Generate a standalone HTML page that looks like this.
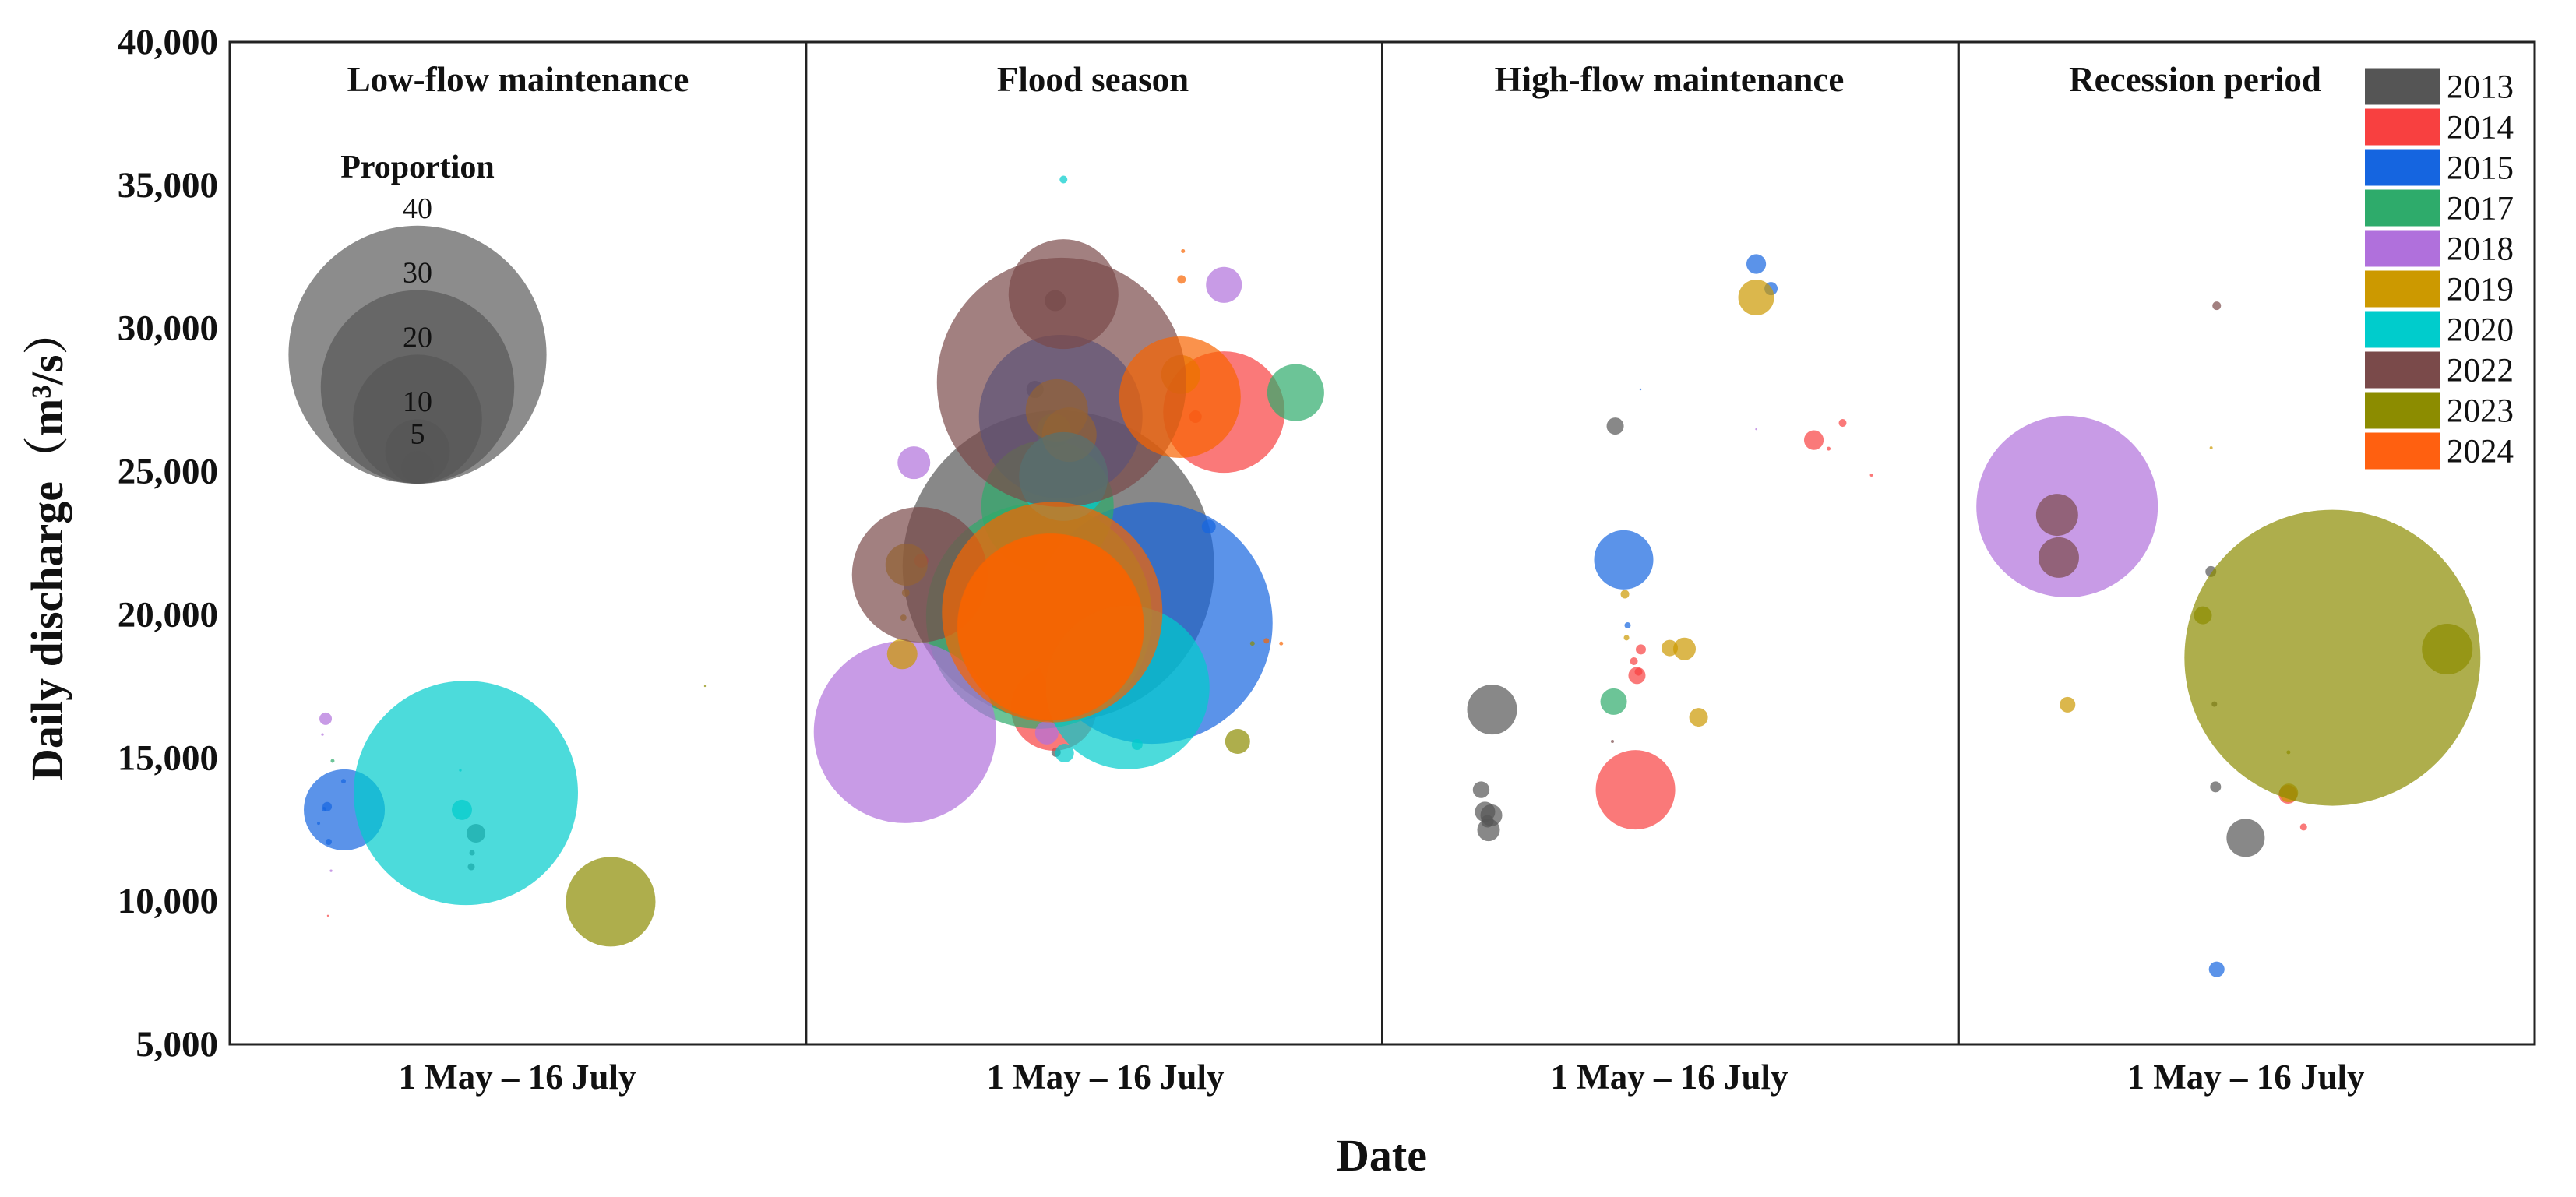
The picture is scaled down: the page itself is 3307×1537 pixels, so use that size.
<!DOCTYPE html>
<html lang="en">
<head>
<meta charset="utf-8">
<title>Daily discharge bubble chart</title>
<style>
html,body{margin:0;padding:0;background:#fff;}
body{width:3307px;height:1537px;overflow:hidden;}
svg{display:block;}
text{font-family:"Liberation Serif","Noto Serif CJK SC",serif;fill:#111;}
.b{font-weight:bold;}
</style>
</head>
<body>
<svg id="chart" xmlns="http://www.w3.org/2000/svg" width="3307" height="1537" viewBox="0 0 3307 1537">
  <rect x="0" y="0" width="3307" height="1537" fill="#fff"/>
  <g id="marks"></g>
  <g id="size-key"></g>
  <g id="frames"></g>
  <g id="axes"></g>
  <g id="legend"></g>
  <text class="b" x="1774" y="1503" font-size="58" text-anchor="middle">Date</text>
  <text class="b" transform="translate(80,1003) rotate(-90)" font-size="58" text-anchor="start">Daily discharge（m³/s）</text>
  <text class="b" x="536" y="228" font-size="42" text-anchor="middle">Proportion</text>
</svg>
<script>
const years = [2013, 2014, 2015, 2017, 2018, 2019, 2020, 2022, 2023, 2024];
const yTicks = [5000, 10000, 15000, 20000, 25000, 30000, 35000, 40000];
const panelTitles = ["Low-flow maintenance", "Flood season", "High-flow maintenance", "Recession period"];
const xRangeLabel = "1 May – 16 July";
const sizeKeyValues = [40, 30, 20, 10, 5];

// each row: year, days since 1 May, daily discharge (m3/s), proportion
const lowFlowBubbles = [
  [2013,32.93,12370,2.9],[2013,32.41,11690,0.85],[2013,32.30,11200,1.09],
  [2014,13.13,9490,0.3],
  [2015,15.32,13190,12.56],[2015,13.03,13300,1.45],[2015,12.61,13210,0.72],[2015,13.23,12070,0.97],[2015,15.21,14190,0.72],[2015,11.88,12720,0.48],
  [2017,13.75,14900,0.6],
  [2018,12.82,16370,1.93],[2018,12.40,15820,0.4],[2018,13.55,11060,0.4],
  [2020,31.57,13780,34.78],[2020,31.05,13190,3.14],[2020,30.84,14570,0.4],
  [2023,50.95,9980,13.89],[2023,63.56,17510,0.3]
];
const floodBubbles = [
  [2013,33.34,30970,3.26],[2013,30.63,27870,2.66],[2013,33.76,21700,48.31],[2013,33.45,15200,1.45],
  [2014,15.42,21890,2.17],[2014,55.90,27080,18.84],[2014,52.10,26920,1.93],[2014,33.14,16750,13.29],
  [2015,34.07,26920,25.36],[2015,46.26,19710,37.44],[2015,53.87,23080,2.17],
  [2017,33.14,26430,5.31],[2017,32.30,23790,20.53],[2017,31.16,19960,35.02],[2017,65.50,27760,8.82],
  [2018,55.90,31520,5.56],[2018,14.43,25310,5.07],[2018,13.23,15910,28.26],[2018,32.20,15880,3.62],
  [2019,33.55,27140,9.66],[2019,35.22,26290,8.45],[2019,50.12,28390,6.04],[2019,13.44,21750,6.52],[2019,13.34,20770,1.21],[2019,13.03,19900,0.97],[2019,12.87,18630,4.71],
  [2020,34.44,35200,1.21],[2020,34.44,24830,13.77],[2020,43.03,17460,25.36],[2020,34.59,15170,2.9],[2020,44.29,15470,1.69],
  [2022,34.44,31200,17.03],[2022,34.18,28120,38.65],[2022,15.21,21400,21.01],
  [2023,57.73,15580,3.86],[2023,59.71,19000,0.72],
  [2024,50.43,32700,0.6],[2024,50.22,31710,1.33],[2024,50.02,27600,18.84],[2024,61.58,19090,0.85],[2024,63.56,19000,0.6],[2024,32.93,20090,34.18],[2024,32.72,19580,28.99],[2024,32.72,19580,28.8]
];
const highFlowBubbles = [
  [2013,31.16,26590,2.66],[2013,14.69,16690,7.73],[2013,13.23,13890,2.58],[2013,13.75,13120,3.14],[2013,14.59,13000,3.38],[2013,14.22,12490,3.5],[2013,14.07,12790,1.93],
  [2014,57.73,26100,3.04],[2014,61.58,26700,1.21],[2014,59.71,25800,0.6],[2014,65.44,24880,0.48],[2014,34.59,18790,1.57],[2014,33.66,18380,1.21],[2014,34.07,17880,2.66],[2014,34.28,18010,1.21],[2014,33.87,13890,12.32],
  [2015,50.02,32250,3.04],[2015,52.00,31390,2.05],[2015,32.30,21920,9.18],[2015,32.82,19630,0.97],[2015,34.54,27870,0.3],
  [2017,30.95,16970,4.11],
  [2018,50.02,26480,0.3],
  [2019,50.02,31080,5.56],[2019,32.46,20720,1.33],[2019,32.67,19200,0.85],[2019,38.45,18840,2.54],[2019,40.43,18810,3.5],[2019,42.31,16420,2.9],
  [2022,30.79,15580,0.48]
];
const recessionBubbles = [
  [2013,33.76,21510,1.69],[2013,34.39,13990,1.69],[2013,38.41,12210,5.92],[2013,34.23,16880,0.85],
  [2014,44.08,13730,2.9],[2014,46.16,12590,1.09],
  [2015,34.54,7620,2.42],
  [2018,14.53,23780,28.14],
  [2019,33.80,25830,0.48],[2019,14.59,16860,2.42],[2019,44.18,13780,2.9],
  [2022,34.54,30790,1.33],[2022,13.19,23490,6.52],[2022,13.41,22000,6.28],
  [2023,50.02,18500,45.89],[2023,65.38,18800,7.85],[2023,32.69,19980,2.78],[2023,44.14,15200,0.6]
];
const panelBubbles = [lowFlowBubbles, floodBubbles, highFlowBubbles, recessionBubbles];

const yearColor = {2013:"#555555",2014:"#f84040",2015:"#1565e0",2017:"#2eab6b",2018:"#b070dc",2019:"#cc9900",2020:"#00cccc",2022:"#7a4a4a",2023:"#8c8c00",2024:"#f86400"};
const BUBBLE_ALPHA = 0.7;
const plotTop = 54, plotBottom = 1341, panelLeft = 295, panelWidth = 739.75, dayMax = 77;
const NS = "http://www.w3.org/2000/svg";

function yScale(v){ return plotBottom - (v - 5000) / 35000 * (plotBottom - plotTop); }
function xScale(panelIndex, day){ return panelLeft + panelIndex * panelWidth + day / dayMax * 739; }
function rScale(p){ return p * 4.14; }
function mk(parent, tag, attrs, txt){
  const el = document.createElementNS(NS, tag);
  for (const k in attrs) el.setAttribute(k, attrs[k]);
  if (txt !== undefined) el.textContent = txt;
  parent.appendChild(el);
  return el;
}

const marks = document.getElementById("marks");
panelBubbles.forEach(function(rows, pi){
  rows.forEach(function(row){
    const c = mk(marks, "circle", {cx: xScale(pi, row[1]), cy: yScale(row[2]), r: rScale(row[3]), fill: yearColor[row[0]], "fill-opacity": BUBBLE_ALPHA});
    
    
  });
});

const key = document.getElementById("size-key");
const keyCx = 536, keyBase = 621;
sizeKeyValues.forEach(function(v){
  const r = rScale(v);
  const c = mk(key, "circle", {cx: keyCx, cy: keyBase - r, r: r, fill: "#555555", "fill-opacity": 0.68});
  
  
});
sizeKeyValues.forEach(function(v){
  const r = rScale(v);
  const t = mk(key, "text", {x: keyCx, y: keyBase - 2 * r - 10, "font-size": 38, "text-anchor": "middle"}, String(v));
  
  
});

const frames = document.getElementById("frames");
panelTitles.forEach(function(title, pi){
  const x = panelLeft + pi * panelWidth;
  const f = mk(frames, "rect", {x: x, y: plotTop, width: panelWidth, height: plotBottom - plotTop, fill: "none", stroke: "#222", "stroke-width": 3});
  
  
});

const axes = document.getElementById("axes");
yTicks.forEach(function(v){
  const t = mk(axes, "text", {x: 280, y: yScale(v) + 15, "font-size": 47, "font-weight": "bold", "text-anchor": "end"}, v.toLocaleString("en-US"));
  
  
});
const titleCx = [665, 1403, 2143, 2818];
const rangeCx = [664, 1419, 2143, 2883];
panelTitles.forEach(function(title, pi){
  const t = mk(axes, "text", {x: titleCx[pi], y: 117, "font-size": 45, "font-weight": "bold", "text-anchor": "middle"}, title);
  
  
  const r = mk(axes, "text", {x: rangeCx[pi], y: 1398, "font-size": 45, "font-weight": "bold", "text-anchor": "middle"}, xRangeLabel);
  
  
});

const legend = document.getElementById("legend");
const legendColor = {2024:"#ff6010"};
years.forEach(function(y, i){
  const top = 87.5 + i * 52;
  const s = mk(legend, "rect", {x: 3036, y: top, width: 96, height: 47, fill: legendColor[y] || yearColor[y]});
  
  
  const t = mk(legend, "text", {x: 3141, y: top + 38, "font-size": 43}, String(y));
  
  
});
</script>
</body>
</html>
